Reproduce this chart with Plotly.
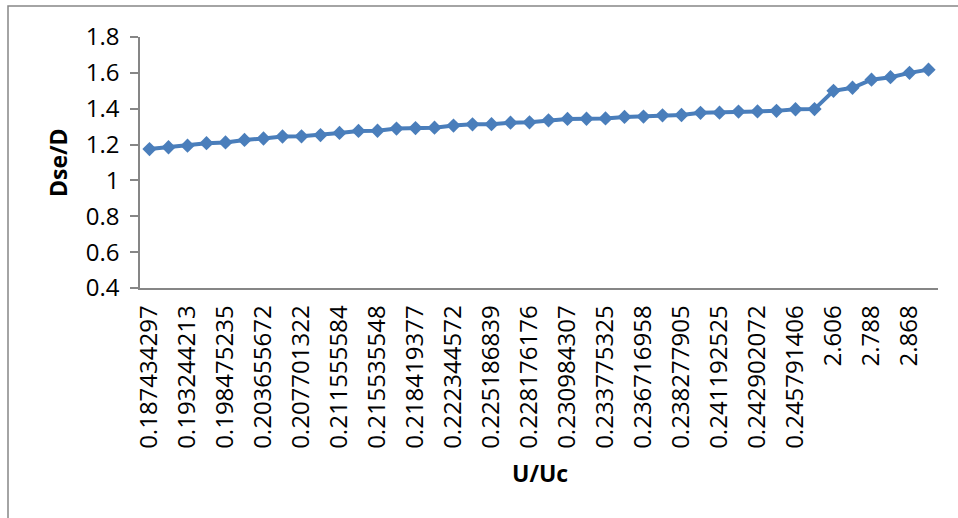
import plotly.graph_objects as go

# U/Uc category labels (every second category is labelled on the axis)
tick_labels = [
    "0.187434297", "0.193244213", "0.198475235", "0.203655672", "0.207701322",
    "0.211555584", "0.215535548", "0.218419377", "0.222344572", "0.225186839",
    "0.228176176", "0.230984307", "0.233775325", "0.236716958", "0.238277905",
    "0.241192525", "0.242902072", "0.245791406", "2.606", "2.788", "2.868",
]

# Dse/D for each of the 42 categories
dse_d = [
    1.175, 1.185, 1.194, 1.208, 1.212, 1.226, 1.234, 1.245, 1.246, 1.253,
    1.265, 1.276, 1.277, 1.289, 1.292, 1.294, 1.306, 1.313, 1.314, 1.322,
    1.324, 1.335, 1.343, 1.344, 1.346, 1.354, 1.356, 1.363, 1.365, 1.377,
    1.378, 1.384, 1.385, 1.388, 1.397, 1.398, 1.500, 1.517, 1.562, 1.576,
    1.600, 1.618,
]

positions = list(range(len(dse_d)))
tick_positions = positions[::2]

FONT = "Open Sans"
BLUE = "#4A7EBB"
AXIS_GREY = "#868686"

fig = go.Figure()
fig.add_trace(go.Scatter(
    x=positions, y=dse_d, mode="lines+markers",
    line=dict(color=BLUE, width=4),
    marker=dict(symbol="diamond", size=11, color=BLUE),
    showlegend=False, hoverinfo="skip",
))

L, T, W, H = 140, 37, 798, 251
fig.update_layout(
    width=958, height=518,
    margin=dict(l=L, r=958 - L - W, t=T, b=518 - T - H),
    paper_bgcolor="white", plot_bgcolor="white",
    font=dict(family=FONT, size=24, color="black"),
    xaxis=dict(
        range=[-0.5, len(dse_d) - 0.5], showgrid=False, zeroline=False,
        showline=True, linecolor=AXIS_GREY, linewidth=1.5,
        tickmode="array", tickvals=tick_positions, ticktext=tick_labels,
        tickangle=-90, ticks="", ticklabelstandoff=6,
        tickfont=dict(family=FONT, size=24),
    ),
    yaxis=dict(
        range=[0.4, 1.8], dtick=0.2, tick0=0.4, showgrid=False, zeroline=False,
        showline=True, linecolor=AXIS_GREY, linewidth=1.5,
        ticks="outside", ticklen=8, tickcolor=AXIS_GREY, tickwidth=1.5,
        ticklabelstandoff=6, tickfont=dict(family=FONT, size=24),
        tickformat="~g",
    ),
)

# Axis titles
fig.add_annotation(
    text="<b>U/Uc</b>", xref="paper", yref="paper",
    x=(540 - L) / W, y=(T + H - 473) / H, showarrow=False,
    font=dict(family=FONT, size=23), xanchor="center", yanchor="middle",
)
fig.add_annotation(
    text="<b>Dse/D</b>", xref="paper", yref="paper",
    x=(58 - L) / W, y=(T + H - 163) / H, showarrow=False, textangle=-90,
    font=dict(family=FONT, size=23), xanchor="center", yanchor="middle",
)

# Chart frame
fig.add_shape(
    type="rect", xref="paper", yref="paper",
    x0=(8 - L) / W, x1=(1000 - L) / W,
    y0=(T + H - 560) / H, y1=(T + H - 6) / H,
    line=dict(color=AXIS_GREY, width=1.5), fillcolor="rgba(0,0,0,0)",
    layer="below",
)

fig.write_html("out.html")
